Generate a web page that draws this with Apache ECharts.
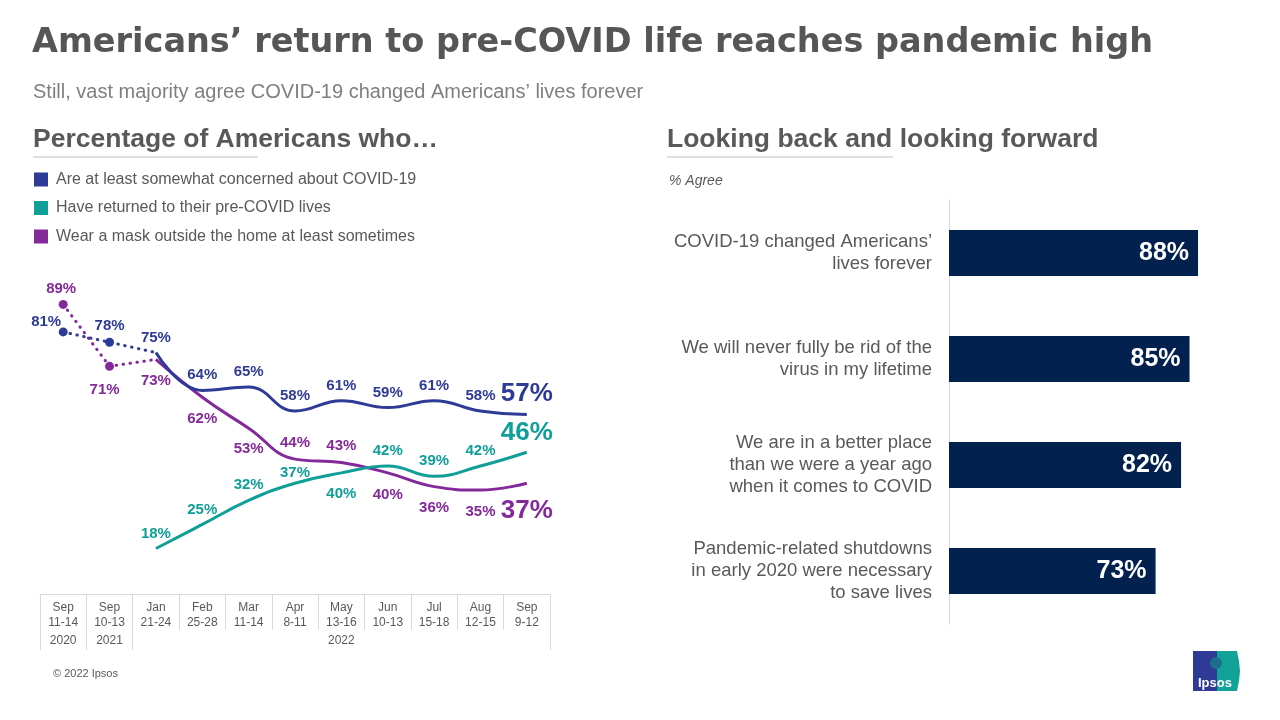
<!DOCTYPE html>
<html>
<head>
<meta charset="utf-8">
<script src="https://cdn.jsdelivr.net/npm/echarts@6/dist/echarts.min.js"></script>
<style>
html,body{margin:0;padding:0;background:#fff;}
#c{width:1280px;height:720px;}
</style>
</head>
<body>
<div id="c"></div>
<script>
// ---------- data ----------
const months = ['Sep\n11-14','Sep\n10-13','Jan\n21-24','Feb\n25-28','Mar\n11-14','Apr\n8-11','May\n13-16','Jun\n10-13','Jul\n15-18','Aug\n12-15','Sep\n9-12'];
const yearLabels = ['2020','2021','','','','','2022','','','',''];
const concerned = [81,78,75,64,65,58,61,59,61,58,57];
const returned  = [null,null,18,25,32,37,40,42,39,42,46];
const masked    = [89,71,73,62,53,44,43,40,36,35,37];
const seriesNames = ['Are at least somewhat concerned about COVID-19','Have returned to their pre-COVID lives','Wear a mask outside the home at least sometimes'];

const barCats = ['COVID-19 changed Americans’\nlives forever','We will never fully be rid of the\nvirus in my lifetime','We are in a better place\nthan we were a year ago\nwhen it comes to COVID','Pandemic-related shutdowns\nin early 2020 were necessary\nto save lives'];
const barVals = [88,85,82,73];

// ---------- styles ----------
const C_BLUE='#2d3b96', C_TEAL='#109e99', C_PURP='#84299a', GRAY='#595959';
// label placement per point: [position, distance, dx, dy]
const posConcern = [['top',0,-17,2],['top',4,0,0],['top',7.5,0,0],['top',7.5,0,0],['top',7.5,0,0],['top',7.5,0,0],['top',7.5,0,0],['top',7.5,0,0],['top',7.5,0,0],['top',7.5,-2,0],['top',8,0,0]];
const posReturn  = [null,null,['top',7.5,0,0],['top',7.5,0,0],['top',7.5,0,0],['top',2.5,0,0],['bottom',13.5,0,0],['top',7.5,0,0],['top',7.5,0,0],['top',7.5,-2,0],['top',6,0,0]];
const posMask    = [['top',4,-2,0],['bottom',12,-5,0],['bottom',14,0,0],['bottom',14,0,0],['bottom',13,0,0],['top',8.5,0,0],['top',9.5,0,0],['bottom',14,0,0],['bottom',14,0,0],['bottom',14,-2,0],['bottom',15,0,0]];

function solidData(vals,pos,color){
  return vals.map((v,i)=>{
    if(i<2) return null;
    const p=pos[i]; const last=i===vals.length-1;
    return {value:v,label:{show:true,position:p[0],distance:p[1],offset:[p[2],p[3]],
      formatter:'{c}%',color:color,fontWeight:'bold',fontSize:last?26:15,fontFamily:'Arial'}};
  });
}
function dotData(vals,pos,color){
  return vals.map((v,i)=>{
    if(i>2||v==null) return null;
    const p=pos[i];
    return {value:v,label:{show:i<2,position:p[0],distance:p[1],offset:[p[2],p[3]],
      formatter:'{c}%',color:color,fontWeight:'bold',fontSize:15,fontFamily:'Arial'}};
  });
}
function dotted(name,vals,pos,color){
  return {type:'line',name:name,xAxisIndex:0,yAxisIndex:0,data:dotData(vals,pos,color),
    symbol:'circle',symbolSize:(v,p)=>p.dataIndex<2?9:0,showSymbol:true,
    itemStyle:{color:color},lineStyle:{color:color,width:3,type:[0.5,6.5],cap:'round'},
    connectNulls:false,silent:true,z:3};
}
function solid(name,vals,pos,color){
  return {type:'line',name:name,xAxisIndex:0,yAxisIndex:0,data:solidData(vals,pos,color),
    smooth:0.45,showSymbol:true,showAllSymbol:true,symbol:'circle',symbolSize:0.1,
    itemStyle:{color:color},
    lineStyle:{color:color,width:3},silent:true,z:4,
    labelLayout:{hideOverlap:false}};
}

const chart = echarts.init(document.getElementById('c'),null,{renderer:'canvas'});
chart.setOption({
  animation:false,
  backgroundColor:'#fff',
  textStyle:{fontFamily:'Arial, Liberation Sans, sans-serif'},
  title:[
    {text:'Americans’ return to pre-COVID life reaches pandemic high',left:32,top:26,padding:0,
      textStyle:{fontSize:33.5,fontWeight:'bold',color:'#565656',fontFamily:'DejaVu Sans'}},
    {text:'Still, vast majority agree COVID-19 changed Americans’ lives forever',left:33,top:82,padding:0,
      textStyle:{fontSize:20,fontWeight:'normal',color:'#7f7f7f',fontFamily:'Arial'}},
    {text:'Percentage of Americans who…',left:33,top:126,padding:0,
      textStyle:{fontSize:26.5,fontWeight:'bold',color:GRAY,fontFamily:'Arial'}},
    {text:'Looking back and looking forward',left:667,top:126,padding:0,
      textStyle:{fontSize:26.5,fontWeight:'bold',color:GRAY,fontFamily:'Arial'}},
    {text:'% Agree',left:669,top:174,padding:0,
      textStyle:{fontSize:14,fontStyle:'italic',fontWeight:'normal',color:GRAY,fontFamily:'Arial'}},
    {text:'© 2022 Ipsos',left:53,top:668,padding:0,
      textStyle:{fontSize:11,fontWeight:'normal',color:GRAY,fontFamily:'Arial'}}
  ],
  legend:{
    data:seriesNames,left:34,top:171.5,orient:'vertical',icon:'rect',itemWidth:14,itemHeight:14,
    itemGap:12.5,selectedMode:false,padding:0,
    textStyle:{fontSize:16,color:GRAY,fontFamily:'Arial',padding:[0,0,0,3]}
  },
  grid:[
    {left:40,width:510,top:301,height:275},
    {left:949,width:283,top:200,height:424}
  ],
  xAxis:[
    {type:'category',gridIndex:0,data:months,boundaryGap:true,offset:18,
      axisLine:{show:true,lineStyle:{color:'#d9d9d9',width:1}},
      axisTick:{show:true,length:36,interval:0,lineStyle:{color:'#d9d9d9'}},
      axisLabel:{interval:0,margin:6,fontSize:12,lineHeight:15,color:GRAY,fontFamily:'Arial'},
      splitLine:{show:false}},
    {type:'category',gridIndex:0,data:months,boundaryGap:true,offset:18,position:'bottom',
      axisLine:{show:false},
      axisTick:{show:true,length:56,interval:(i)=>i<=2,lineStyle:{color:'#d9d9d9'}},
      axisLabel:{interval:0,margin:41,fontSize:12,color:GRAY,fontFamily:'Arial',
        formatter:(v,i)=>yearLabels[i]},
      splitLine:{show:false}},
    {type:'value',gridIndex:1,min:0,max:100,show:false}
  ],
  yAxis:[
    {type:'value',gridIndex:0,min:10,max:90,show:false},
    {type:'category',gridIndex:1,data:barCats,inverse:true,
      axisLine:{show:true,lineStyle:{color:'#d9d9d9'}},axisTick:{show:false},
      axisLabel:{margin:17,fontSize:18.5,lineHeight:22,color:GRAY,fontFamily:'Arial',align:'right',
        padding:[3,0,0,0]}}
  ],
  series:[
    dotted('c0',masked,posMask,C_PURP),
    dotted('c1',concerned,posConcern,C_BLUE),
    solid(seriesNames[2],masked,posMask,C_PURP),
    solid(seriesNames[1],returned,posReturn,C_TEAL),
    solid(seriesNames[0],concerned,posConcern,C_BLUE),
    {type:'bar',xAxisIndex:2,yAxisIndex:1,data:barVals,barWidth:46,
      itemStyle:{color:'#03214f'},silent:true,
      label:{show:true,position:'insideRight',distance:9,formatter:'{c}%',color:'#fff',
        fontSize:25,fontWeight:'bold',fontFamily:'Arial'}}
  ],
  graphic:[
    {type:'line',shape:{x1:33,y1:157,x2:258,y2:157},style:{stroke:'#bfbfbf',lineWidth:1}},
    {type:'line',shape:{x1:667,y1:157,x2:893,y2:157},style:{stroke:'#bfbfbf',lineWidth:1}},
    {type:'group',x:1193,y:651,children:[
      {type:'rect',shape:{x:0,y:0,width:24,height:40},style:{fill:'#2e3a93'}},
      {type:'polygon',shape:{points:[[24,0],[44,0],[46,10],[47,20],[46,30],[44,40],[24,40]]},style:{fill:'#12a29a'}},
      {type:'circle',shape:{cx:23,cy:12,r:6},style:{fill:'#1b6f8c'}},
      {type:'text',x:5,y:26,style:{text:'Ipsos',fill:'#fff',fontSize:13,fontWeight:'bold',fontFamily:'Arial'}}
    ]}
  ]
});
</script>
</body>
</html>
